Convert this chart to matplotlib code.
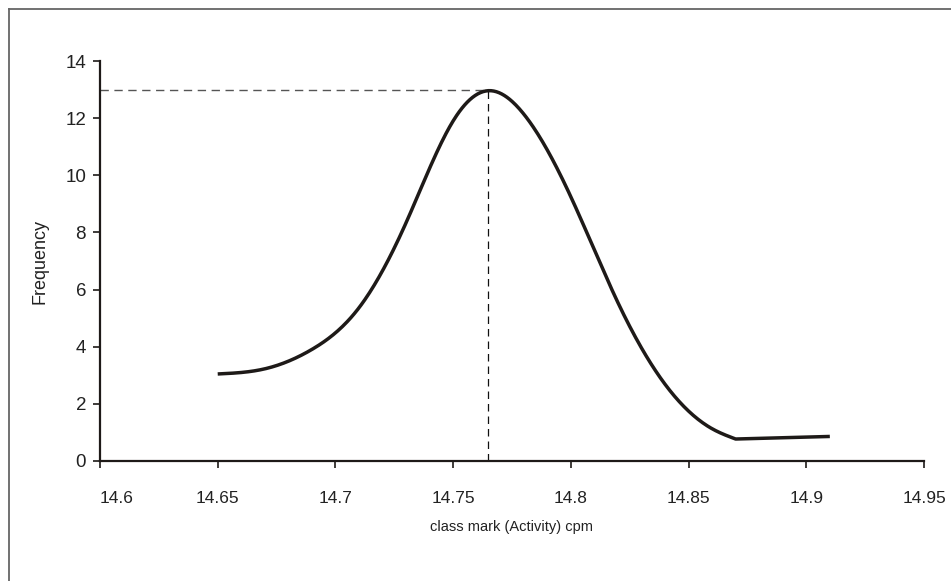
import matplotlib
matplotlib.use('Agg')
import matplotlib.pyplot as plt
from matplotlib.lines import Line2D
import numpy as np

plt.rcParams['font.family'] = ['Liberation Sans', 'DejaVu Sans']

# Values
class_mark = [14.65, 14.67, 14.69, 14.71, 14.73, 14.75, 14.765, 14.78,
              14.80, 14.82, 14.84, 14.86, 14.87, 14.91]
frequency = [3.04, 3.22, 3.90, 5.36, 8.34, 11.91, 12.97, 12.15,
             9.25, 5.54, 2.68, 1.12, 0.76, 0.85]
peak_x = 14.765
peak_y = 13

x_ticks = [14.6, 14.65, 14.7, 14.75, 14.8, 14.85, 14.9, 14.95]
y_ticks = [0, 2, 4, 6, 8, 10, 12, 14]


def smooth(x, y, n=40):
    # natural cubic spline through the points
    x = np.asarray(x, float)
    y = np.asarray(y, float)
    k = len(x)
    h = np.diff(x)
    A = np.zeros((k, k))
    r = np.zeros(k)
    A[0, 0] = A[-1, -1] = 1.0
    for i in range(1, k - 1):
        A[i, i - 1] = h[i - 1]
        A[i, i] = 2 * (h[i - 1] + h[i])
        A[i, i + 1] = h[i]
        r[i] = 6 * ((y[i + 1] - y[i]) / h[i] - (y[i] - y[i - 1]) / h[i - 1])
    M = np.linalg.solve(A, r)
    xs, ys = [], []
    for i in range(k - 1):
        t = np.linspace(x[i], x[i + 1], n, endpoint=False)
        a = (x[i + 1] - t) / h[i]
        b = (t - x[i]) / h[i]
        s = (a * y[i] + b * y[i + 1]
             + ((a**3 - a) * M[i] + (b**3 - b) * M[i + 1]) * h[i]**2 / 6)
        xs.append(t)
        ys.append(s)
    xs.append([x[-1]])
    ys.append([y[-1]])
    return np.concatenate(xs), np.concatenate(ys)


fig = plt.figure(figsize=(9.51, 5.81), dpi=100)
ax = fig.add_axes([100 / 951, 1 - 460.7 / 581, 824 / 951, 399.4 / 581])

# smooth bell part, then straight tail
sx, sy = smooth(class_mark[:-1], frequency[:-1])
sx = np.append(sx, class_mark[-1])
sy = np.append(sy, frequency[-1])
ax.plot(sx, sy, color='#1e1a18', linewidth=2.5, solid_capstyle='butt', zorder=3)

# reference lines to the peak
ax.plot([14.6, peak_x], [peak_y, peak_y], color='#555555', linestyle=(0, (6, 4)),
        linewidth=1.0, zorder=2)
ax.plot([peak_x, peak_x], [0, peak_y], color='#111111', linestyle=(0, (6, 4)),
        linewidth=0.9, zorder=2)

ax.set_xlim(14.6, 14.95)
ax.set_ylim(0, 14)
ax.set_xticks(x_ticks)
ax.set_xticklabels([f'{v:g}' for v in x_ticks])
ax.set_yticks(y_ticks)

for s in ['top', 'right']:
    ax.spines[s].set_visible(False)
for s in ['left', 'bottom']:
    ax.spines[s].set_linewidth(1.6)
    ax.spines[s].set_color('#1e1a18')
ax.tick_params(axis='both', direction='out', length=5, width=1.2, color='#1e1a18',
               labelcolor='#222222')
ax.tick_params(axis='x', pad=17, labelsize=12.5)
ax.tick_params(axis='y', pad=5, labelsize=13.5)
ax.get_xticklabels()[0].set_horizontalalignment('left')

ax.set_xlabel('class mark (Activity) cpm', fontsize=10.5, color='#222222', labelpad=10)
ax.set_ylabel('Frequency', fontsize=13, color='#222222', labelpad=12)

# outer frame (left and top edges visible)
fig.add_artist(Line2D([9 / 951, 9 / 951], [0, 1 - 9 / 581], color='#666666', linewidth=1.3))
fig.add_artist(Line2D([9 / 951, 1], [1 - 9 / 581, 1 - 9 / 581], color='#666666', linewidth=1.3))

fig.savefig('out.png', dpi=100)
